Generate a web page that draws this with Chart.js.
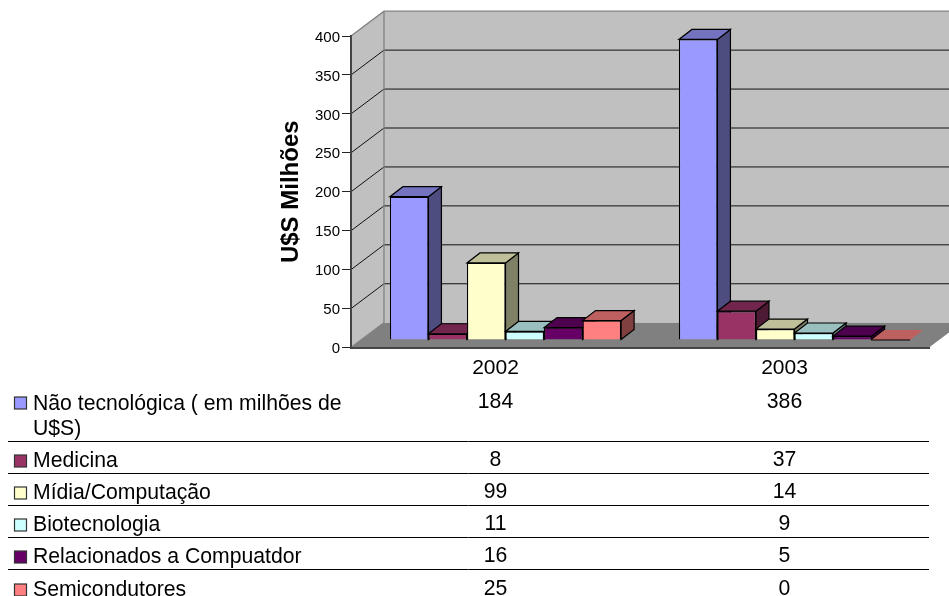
<!DOCTYPE html>
<html><head><meta charset="utf-8">
<style>html,body{margin:0;padding:0;background:#fff;overflow:hidden}canvas{display:block}</style>
<script src="https://cdn.jsdelivr.net/npm/chart.js@4"></script></head>
<body><canvas id="c" width="949" height="596"></canvas>
<script>
const categories = ["2002", "2003"];
const naoTecnologica = [184, 386];
const medicina = [8, 37];
const midiaComputacao = [99, 14];
const biotecnologia = [11, 9];
const relacionados = [16, 5];
const semicondutores = [25, 0];
const yTicks = [0, 50, 100, 150, 200, 250, 300, 350, 400];
const seriesNames = [["Não tecnológica ( em milhões de", "U$S)"], ["Medicina"], ["Mídia/Computação"], ["Biotecnologia"], ["Relacionados a Compuatdor"], ["Semicondutores"]];
const seriesValues = [naoTecnologica, medicina, midiaComputacao, biotecnologia, relacionados, semicondutores];
const seriesColors = ["#9999FF", "#993366", "#FFFFCC", "#CCFFFF", "#660066", "#FF8080"];
const topColors = ["#7373BF", "#73264D", "#BFBF99", "#99BFBF", "#4D004D", "#BF6060"];
const sideColors = ["#4D4D80", "#4D1A33", "#808066", "#668080", "#330033", "#804040"];
const rowLines = [441, 473, 505, 537, 569];
const rowText = [[404, 429], [461], [493], [525], [557], [590]];
const rowSwatch = [403, 461, 493, 525, 557, 590];

const WALL_DX = 33, WALL_DY = 24.8, BAR_SHIFT_X = 10, BAR_SHIFT_Y = 7.5, BAR_DX = 13, BAR_DY = 10;
const FONT = '"Liberation Sans", Arial, sans-serif';

function poly(ctx, pts, fill, stroke, lw) {
  ctx.beginPath();
  pts.forEach((p, i) => i ? ctx.lineTo(p[0], p[1]) : ctx.moveTo(p[0], p[1]));
  ctx.closePath();
  if (fill) { ctx.fillStyle = fill; ctx.fill(); }
  if (stroke) { ctx.strokeStyle = stroke; ctx.lineWidth = lw || 1; ctx.stroke(); }
}

let labelsNudged = false;
const scene = {
  id: 'scene',
  beforeDraw(chart) {
    const { ctx, chartArea: a, scales: { y } } = chart;
    if (!labelsNudged) {
      y.getLabelItems().forEach(it => { it.options.translation[1] += 1.5; });
      labelsNudged = true;
    }
    const L = a.left, R = a.right, T = y.getPixelForValue(400), B = y.getPixelForValue(0);
    ctx.save();
    ctx.fillStyle = '#fff'; ctx.fillRect(0, 0, chart.width, chart.height);
    poly(ctx, [[L, B], [L, T], [L + WALL_DX, T - WALL_DY], [L + WALL_DX, B - WALL_DY]], '#C0C0C0');
    poly(ctx, [[L + WALL_DX, T - WALL_DY], [R + WALL_DX, T - WALL_DY], [R + WALL_DX, B - WALL_DY], [L + WALL_DX, B - WALL_DY]], '#C0C0C0');
    poly(ctx, [[L, B], [R, B], [R + WALL_DX, B - WALL_DY], [L + WALL_DX, B - WALL_DY]], '#808080');
    yTicks.forEach(v => {
      const p = y.getPixelForValue(v);
      if (v > 0 && v < 400) {
        ctx.strokeStyle = '#111'; ctx.lineWidth = 1;
        ctx.beginPath(); ctx.moveTo(L, p); ctx.lineTo(L + WALL_DX, p - WALL_DY); ctx.lineTo(R + WALL_DX, p - WALL_DY); ctx.stroke();
      }
    });
    ctx.strokeStyle = '#808080'; ctx.lineWidth = 1.3;
    ctx.beginPath(); ctx.moveTo(L, T); ctx.lineTo(L + WALL_DX, T - WALL_DY); ctx.lineTo(R + WALL_DX, T - WALL_DY); ctx.stroke();
    ctx.beginPath(); ctx.moveTo(L + WALL_DX, T - WALL_DY); ctx.lineTo(L + WALL_DX, B - WALL_DY); ctx.stroke();
    ctx.beginPath(); ctx.moveTo(L, B); ctx.lineTo(L + WALL_DX, B - WALL_DY); ctx.stroke();
    ctx.restore();
  },
  beforeDatasetDraw() { return false; },
  beforeDatasetsDraw(chart) {
    const { ctx } = chart;
    ctx.save();
    ctx.translate(BAR_SHIFT_X, -BAR_SHIFT_Y);
    categories.forEach((_, ci) => {
      chart.data.datasets.forEach((ds, di) => {
        const el = chart.getDatasetMeta(di).data[ci];
        const l = el.x - el.width / 2, r = el.x + el.width / 2, t = el.y, b = el.base;
        if (ds.data[ci] !== 0) {
          poly(ctx, [[r, t], [r + BAR_DX, t - BAR_DY], [r + BAR_DX, b - BAR_DY], [r, b]], sideColors[di], '#000', 1.2);
          poly(ctx, [[l, t], [r, t], [r + BAR_DX, t - BAR_DY], [l + BAR_DX, t - BAR_DY]], topColors[di], '#000', 1.2);
          el.draw(ctx);
        } else {
          poly(ctx, [[l, b], [r, b], [r + BAR_DX, b - BAR_DY], [l + BAR_DX, b - BAR_DY]], topColors[di]);
          ctx.strokeStyle = '#000'; ctx.lineWidth = 1.2;
          ctx.beginPath(); ctx.moveTo(l, b); ctx.lineTo(r, b); ctx.stroke();
        }
      });
    });
    ctx.restore();
  },
  afterDraw(chart) {
    const { ctx, scales: { x } } = chart;
    ctx.save();
    ctx.strokeStyle = '#000'; ctx.lineWidth = 1;
    rowLines.forEach(yy => { ctx.beginPath(); ctx.moveTo(8, yy + .5); ctx.lineTo(929, yy + .5); ctx.stroke(); });
    ctx.font = '21.2px ' + FONT; ctx.fillStyle = '#000'; ctx.textBaseline = 'middle';
    seriesNames.forEach((lines, i) => {
      ctx.textAlign = 'left';
      lines.forEach((t, k) => ctx.fillText(t, 33, rowText[i][k]));
      ctx.fillStyle = seriesColors[i]; ctx.strokeStyle = '#333'; ctx.lineWidth = 1.2;
      ctx.fillRect(14.5, rowSwatch[i] - 6, 12, 12); ctx.strokeRect(14.5, rowSwatch[i] - 6, 12, 12);
      ctx.fillStyle = '#000'; ctx.textAlign = 'center';
      categories.forEach((_, ci) => ctx.fillText(String(seriesValues[i][ci]), x.getPixelForValue(ci), rowText[i][0] - (i ? 1 : 2)));
    });
    ctx.restore();
  }
};

new Chart(document.getElementById('c'), {
  type: 'bar',
  data: {
    labels: categories,
    datasets: seriesNames.map((n, i) => ({
      label: n.join(' '), data: seriesValues[i], backgroundColor: seriesColors[i],
      borderColor: '#000', borderWidth: 1.2, categoryPercentage: 0.8, barPercentage: 1
    }))
  },
  options: {
    responsive: false, animation: false,
    layout: { padding: { left: 0, right: 20, top: 36, bottom: 0 } },
    plugins: { legend: { display: false }, tooltip: { enabled: false } },
    scales: {
      x: {
        grid: { display: false },
        border: { color: '#444', width: 2 },
        ticks: { color: '#000', font: { family: FONT, size: 21 }, padding: 0, maxRotation: 0 },
        afterFit(s) { s.height = 596 - 347.5 - 0; }
      },
      y: {
        min: 0, max: 400,
        afterBuildTicks(s) { s.ticks = yTicks.map(v => ({ value: v })); },
        grid: { drawOnChartArea: false, drawTicks: true, tickLength: 9, color: '#222' },
        border: { color: '#444', width: 2 },
        ticks: { color: '#000', font: { family: FONT, size: 15 }, padding: 2 },
        title: { display: true, text: 'U$S Milhões', color: '#000', font: { family: FONT, size: 24, weight: 'bold' }, padding: { top: 277, bottom: 0 } },
        afterFit(s) { s.width = 351; }
      }
    }
  },
  plugins: [scene]
});
</script></body></html>
